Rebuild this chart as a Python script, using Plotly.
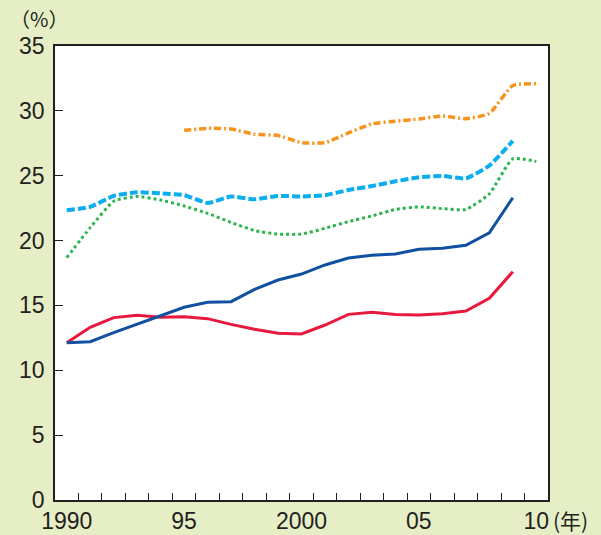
import plotly.graph_objects as go

years = list(range(1990, 2011))
orange_years = list(range(1995, 2011))
orange = [28.5, 28.65, 28.6, 28.2, 28.1, 27.55, 27.55, 28.3, 29.0, 29.2, 29.37, 29.6, 29.4, 29.8, 31.95, 32.1]
cyan_years = list(range(1990, 2010))
cyan = [22.33, 22.6, 23.44, 23.72, 23.64, 23.5, 22.9, 23.4, 23.18, 23.44, 23.4,
        23.5, 23.9, 24.2, 24.57, 24.88, 24.98, 24.8, 25.78, 27.68]
green_years = list(range(1990, 2011))
green = [18.68, 21.0, 23.03, 23.4, 23.13, 22.67, 22.1, 21.4, 20.77, 20.5, 20.5,
         20.95, 21.46, 21.9, 22.4, 22.6, 22.46, 22.4, 23.6, 26.3, 26.1]
blue_years = list(range(1990, 2010))
blue = [12.13, 12.2, 12.9, 13.57, 14.2, 14.86, 15.24, 15.29, 16.24, 16.96, 17.42,
        18.12, 18.66, 18.87, 18.97, 19.33, 19.4, 19.64, 20.6, 23.3]
red_years = list(range(1990, 2010))
red = [12.13, 13.31, 14.06, 14.24, 14.08, 14.13, 13.98, 13.54, 13.16, 12.85, 12.8,
       13.49, 14.31, 14.47, 14.31, 14.26, 14.36, 14.57, 15.55, 17.6]

x_tickvals = [1990, 1995, 2000, 2005, 2010]
x_ticktext = ["1990", "95", "2000", "05", "10"]
x_minor = [y + 0.5 for y in range(1990, 2010)]
y_tickvals = [0, 5, 10, 15, 20, 25, 30, 35]

fig = go.Figure()
fig.add_trace(go.Scatter(x=red_years, y=red, mode="lines",
                         line=dict(color="#e8193f", width=3)))
fig.add_trace(go.Scatter(x=blue_years, y=blue, mode="lines",
                         line=dict(color="#1150a0", width=3)))
fig.add_trace(go.Scatter(x=green_years, y=green, mode="lines",
                         line=dict(color="#2db44e", width=3, dash="dot", shape="spline", smoothing=0.5)))
fig.add_trace(go.Scatter(x=cyan_years, y=cyan, mode="lines",
                         line=dict(color="#0aaeef", width=4, dash="8px,3px", shape="spline", smoothing=0.5)))
fig.add_trace(go.Scatter(x=orange_years, y=orange, mode="lines",
                         line=dict(color="#f7941d", width=3.5, dash="7px,3px,2px,3px", shape="spline", smoothing=0.5)))

font_family = "Liberation Sans, Arial, sans-serif"
cjk_family = "Noto Sans CJK JP, " + font_family
fig.update_layout(
    width=601, height=535,
    margin=dict(l=55, r=53, t=46, b=35, autoexpand=False),
    paper_bgcolor="#e5eec5",
    plot_bgcolor="white",
    showlegend=False,
    font=dict(family=font_family, size=23, color="#231f20"),
    xaxis=dict(
        range=[1989.5, 2010.5],
        tickvals=x_tickvals, ticktext=x_ticktext,
        ticks="", showgrid=False, zeroline=False, automargin=False,
        showline=True, linecolor="#231f20", linewidth=1.5, mirror=True,
        minor=dict(tickvals=x_minor, ticks="inside", ticklen=7, tickwidth=1.2,
                   tickcolor="#231f20", showgrid=False),
        tickfont=dict(size=23),
        fixedrange=True,
    ),
    yaxis=dict(
        range=[0, 35],
        tickvals=y_tickvals,
        ticks="inside", ticklen=8, tickwidth=1.2, tickcolor="#231f20",
        showgrid=False, zeroline=False, automargin=False,
        showline=True, linecolor="#231f20", linewidth=1.5, mirror=True,
        ticklabelstandoff=4,
        tickfont=dict(size=23),
        fixedrange=True,
    ),
)

fig.add_annotation(text="（%）", xref="paper", yref="paper", x=-0.095, y=1.0,
                   yshift=28, xanchor="left", yanchor="middle", showarrow=False,
                   font=dict(size=20, color="#231f20", family=cjk_family))
fig.add_annotation(text="(年)", xref="paper", yref="paper", x=1.0, y=0,
                   xshift=3, yshift=-20, xanchor="left", yanchor="middle", showarrow=False,
                   font=dict(size=21, color="#231f20", family=cjk_family))

fig.write_html("out.html", config={"displayModeBar": False},
               post_script="document.body.style.margin='0';document.body.style.background='#e5eec5';")
